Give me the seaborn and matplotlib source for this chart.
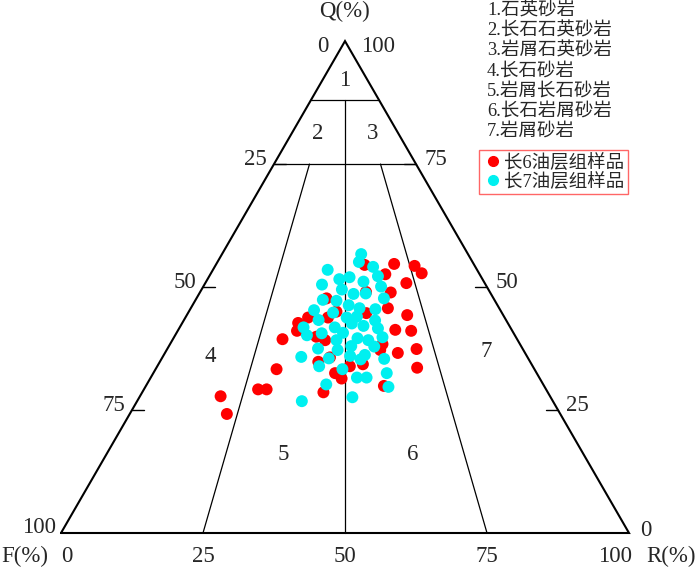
import numpy as np
import pandas as pd
import matplotlib
matplotlib.use("Agg")
import matplotlib.pyplot as plt
import seaborn as sns
from matplotlib.lines import Line2D

sns.set_style("white")
plt.rcParams['font.family'] = ['Liberation Serif', 'Noto Sans CJK SC', 'DejaVu Sans']

# ---- data (Q %, R %; F = 100 - Q - R) ----
red_q = [54.7, 54.3, 52.8, 54.5, 52.6, 50.8, 48.9, 49.0, 45.7, 44.3, 47.7, 42.7, 43.8, 43.8,
         41.1, 39.9, 39.2, 44.7, 41.3, 41.1, 38.4, 36.6, 37.4, 33.6, 39.4, 33.3, 34.8, 35.7,
         33.9, 34.3, 32.5, 31.4, 28.6, 29.9, 29.2, 29.2, 27.8, 24.2, 37.2, 45.0]
red_r = [31.3, 35.1, 37.1, 26.2, 30.8, 35.4, 33.6, 29.2, 34.7, 38.8, 22.9, 20.4, 21.6, 25.1,
         21.0, 25.0, 26.9, 31.4, 38.2, 41.1, 37.4, 41.0, 43.9, 45.9, 19.3, 21.3, 27.9, 29.5,
         33.9, 36.0, 32.0, 33.7, 31.9, 41.9, 20.1, 21.6, 14.2, 17.1, 37.6, 26.0]
cyan_q = [56.7, 55.1, 54.1, 52.2, 53.5, 51.6, 52.0, 51.1, 50.1, 50.5, 49.5, 48.6, 48.7, 47.7,
          47.4, 47.2, 46.3, 45.7, 45.5, 45.3, 44.8, 43.8, 44.0, 43.3, 43.2, 42.6, 42.1, 41.6,
          41.8, 40.2, 41.8, 40.7, 40.6, 39.2, 39.6, 39.8, 39.2, 37.9, 38.0, 37.5, 37.2, 36.0,
          36.2, 35.8, 35.5, 35.4, 35.3, 33.9, 33.3, 32.5, 31.6, 31.6, 30.2, 29.7, 27.6, 26.8]
cyan_r = [24.5, 24.9, 27.9, 29.7, 20.2, 23.2, 24.8, 27.7, 31.3, 20.7, 24.7, 27.2, 29.3, 33.0,
          22.4, 24.9, 27.5, 29.7, 32.6, 21.9, 25.5, 28.4, 30.1, 23.7, 33.7, 29.9, 32.2, 35.0,
          21.8, 23.2, 27.3, 29.3, 25.6, 28.9, 32.4, 36.7, 34.5, 36.2, 32.1, 26.5, 30.1, 32.9,
          35.4, 24.4, 29.4, 39.2, 35.1, 28.5, 32.9, 41.1, 36.3, 38.0, 31.6, 42.8, 37.5, 29.0]

series_names = ['长6油层组样品', '长7油层组样品']
series_colors = ['#ff0000', '#00f0f0']
class_names = ['1.石英砂岩', '2.长石石英砂岩', '3.岩屑石英砂岩', '4.长石砂岩',
               '5.岩屑长石砂岩', '6.长石岩屑砂岩', '7.岩屑砂岩']
tick_vals = [25, 50, 75]
q_lines = [88, 75]
ratio_lines = [(0.25, 75), (0.5, 88), (0.75, 75)]

H = np.sqrt(3) / 2


def tern(q, r):
    q = np.asarray(q, float)
    r = np.asarray(r, float)
    return r / 100 + q / 200, q / 100 * H


fig = plt.figure(figsize=(7.0, 5.72), dpi=100)
ax = fig.add_axes([0, 0, 1, 1])
ax.set_xlim(-61 / 568, 639 / 568)
ax.set_ylim(-39 / 568, 533 / 568)
ax.axis('off')

# triangle
tu, tv = tern([0, 0, 100, 0], [0, 100, 0, 0])
ax.plot(tu, tv, color='black', lw=1.5, solid_joinstyle='miter', zorder=2)

# horizontal Q lines
for q in q_lines:
    u, v = tern([q, q], [0, 100 - q])
    ax.plot(u, v, color='black', lw=0.9, zorder=1)
# ratio lines
for ratio, qtop in ratio_lines:
    u, v = tern([0, qtop], [100 * ratio, (100 - qtop) * ratio])
    ax.plot(u, v, color='black', lw=0.9, zorder=1)

tl = 12 / 568
fs = 16.5
# left side ticks (F)
for f in tick_vals:
    q = 100 - f
    u, v = tern(q, 0)
    ax.plot([u, u + tl], [v, v], color='black', lw=1.0)
    ax.annotate(str(f), (u, v), xytext=(-5, 3), textcoords='offset points',
                ha='right', va='center', fontsize=fs)
# right side ticks (Q)
for q in tick_vals:
    u, v = tern(q, 100 - q)
    ax.plot([u - tl, u], [v, v], color='black', lw=1.0)
    ax.annotate(str(q), (u, v), xytext=(6, 3), textcoords='offset points',
                ha='left', va='center', fontsize=fs)

# corner labels
u, v = tern(100, 0)
ax.annotate('0', (u, v), xytext=(-16, -4), textcoords='offset points', ha='center', va='center', fontsize=fs)
ax.annotate('100', (u, v), xytext=(24, -4), textcoords='offset points', ha='center', va='center', fontsize=fs)
ax.annotate('Q(%)', (u, v), xytext=(0, 21), textcoords='offset points', ha='center', va='center', fontsize=fs)
u, v = tern(0, 0)
ax.annotate('100', (u, v), xytext=(-16, 4), textcoords='offset points', ha='center', va='center', fontsize=fs)
u, v = tern(0, 100)
ax.annotate('0', (u, v), xytext=(12, 2), textcoords='offset points', ha='center', va='center', fontsize=fs)
for rv in [0, 25, 50, 75, 100]:
    u, v = tern(0, rv)
    dx = 4 if rv == 0 else (-10 if rv == 100 else 0)
    ax.annotate(str(rv), (u, v), xytext=(dx, -17), textcoords='offset points',
                ha='center', va='center', fontsize=fs)
u, v = tern(0, 0)
ax.annotate('F(%)', (u, v), xytext=(-43, -17), textcoords='offset points', ha='left', va='center', fontsize=fs)
u, v = tern(0, 100)
ax.annotate('R(%)', (u, v), xytext=(30, -17), textcoords='offset points', ha='center', va='center', fontsize=fs)

# region numbers (ternary positions Q, R)
regions = [('1', 92.0, 4.0), ('2', 81.3, 4.6), ('3', 81.3, 14.2), ('4', 35.8, 8.3),
           ('5', 15.9, 31.2), ('6', 15.9, 53.9), ('7', 36.8, 56.4)]
for lab, q, r in regions:
    u, v = tern(q, r)
    ax.text(u, v, lab, ha='center', va='center', fontsize=fs)

# scatter
df = pd.concat([
    pd.DataFrame({'Q': red_q, 'R': red_r, 'grp': series_names[0]}),
    pd.DataFrame({'Q': cyan_q, 'R': cyan_r, 'grp': series_names[1]}),
], ignore_index=True)
df['u'], df['v'] = tern(df['Q'], df['R'])
sns.scatterplot(data=df, x='u', y='v', hue='grp', palette=dict(zip(series_names, series_colors)),
                s=74, edgecolor='none', linewidth=0, alpha=1, legend=False, ax=ax, zorder=3)

# class list
for i, name in enumerate(class_names):
    fig.text(487 / 700, 1 - (11 + 20 * i) / 572, name, ha='left', va='center', fontsize=13.3)

handles = [Line2D([], [], marker='o', ls='none', color=c, markersize=7) for c in series_colors]
leg = ax.legend(handles, series_names, loc='upper left', bbox_to_anchor=(479 / 700, 1 - 150 / 572),
                bbox_transform=fig.transFigure, frameon=True, fancybox=False, fontsize=13.3,
                handletextpad=0.05, handlelength=1.1, borderpad=0.2, labelspacing=0.05,
                borderaxespad=0)
leg.get_frame().set_edgecolor('#ff4040')
leg.get_frame().set_linewidth(1.0)

fig.savefig('out.png', dpi=100)
